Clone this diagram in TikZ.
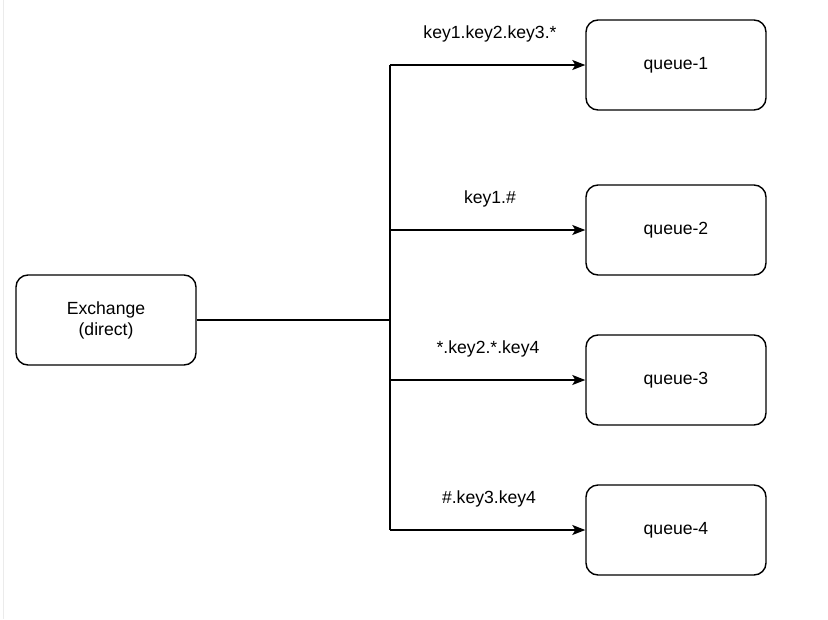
\documentclass[tikz,border=0pt]{standalone}
\usepackage{fontspec}
\setmainfont{Liberation Sans}
\usetikzlibrary{arrows.meta}
\begin{document}
\begin{tikzpicture}[x=1pt,y=-1pt,
  box/.style={draw=black,line width=1.4pt,rounded corners=12pt,minimum width=180pt,minimum height=90pt,inner sep=0pt,align=center,font=\fontsize{17.6pt}{21pt}\selectfont},
  lbl/.style={font=\fontsize{17.6pt}{21pt}\selectfont,inner sep=0pt},
  conn/.style={line width=1.4pt},
  arr/.style={conn,-{Stealth[length=13pt,width=10pt,inset=3pt]}}]
\useasboundingbox (0,0) rectangle (828,619);
\draw[black!8,line width=1pt] (3.5,0) -- (3.5,619);
\node[box] (ex) at (106,320) {Exchange\\(direct)};
\node[box] (q1) at (676,65) {queue-1};
\node[box] (q2) at (676,230) {queue-2};
\node[box] (q3) at (676,380) {queue-3};
\node[box] (q4) at (676,530) {queue-4};
\coordinate (j) at (390,320);
\coordinate (t) at (390,65);
\coordinate (b) at (390,530);
\draw[conn] (ex.east) -- (j);
\draw[conn] (t) -- (b);
\draw[arr] (t) -- (q1.west);
\draw[arr] (390,230) -- (q2.west);
\draw[arr] (390,380) -- (q3.west);
\draw[arr] (b) -- (q4.west);
\node[lbl] (l1) at (490,34) {key1.key2.key3.*};
\node[lbl] (l2) at (490,199) {key1.\#};
\node[lbl] (l3) at (488,349) {*.key2.*.key4};
\node[lbl] (l4) at (489,499) {\#.key3.key4};
\end{tikzpicture}
\end{document}
